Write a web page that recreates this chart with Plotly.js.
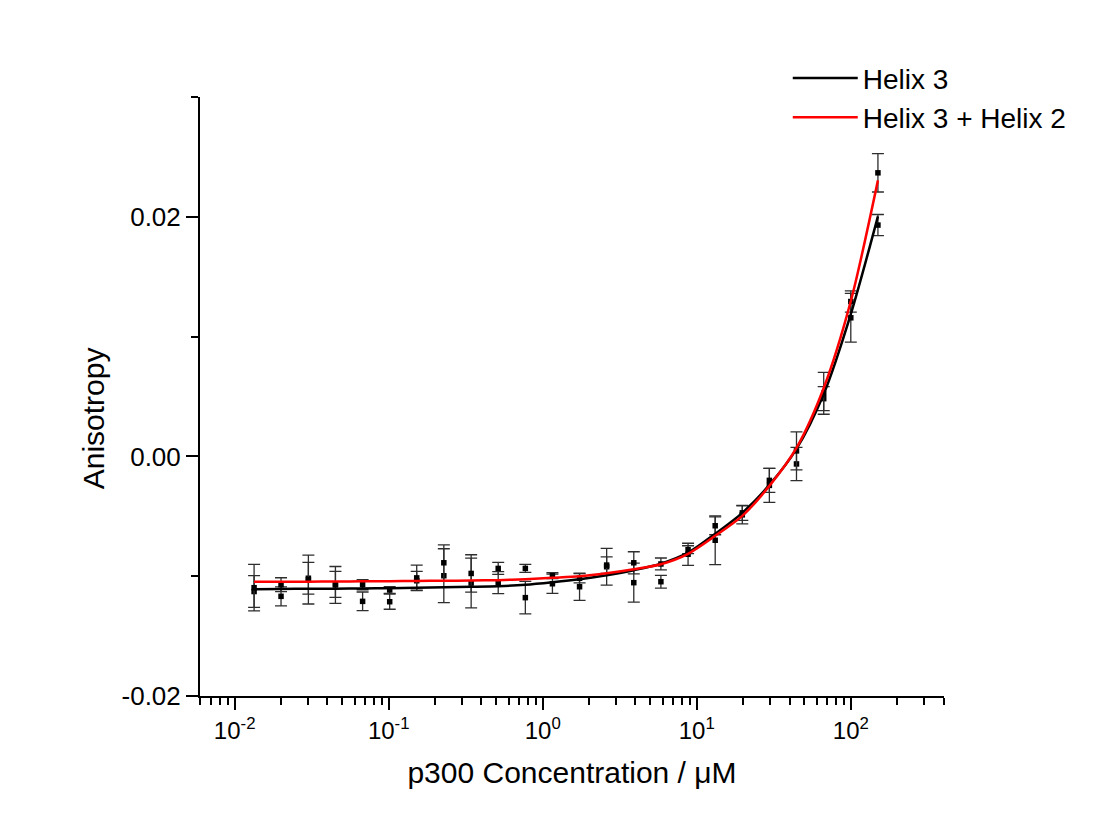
<!DOCTYPE html>
<html>
<head>
<meta charset="utf-8">
<script src="https://cdn.plot.ly/plotly-3.0.1.min.js"></script>
<style>
  html, body { margin: 0; padding: 0; background: #ffffff; }
  #chart { width: 1095px; height: 834px; }
</style>
</head>
<body>
<div id="chart"></div>
<script>
// p300 concentration (µM), 1.5-fold serial dilution
const concentration = [0.01337, 0.0200, 0.0301, 0.0451, 0.0677, 0.1015, 0.152, 0.228, 0.343, 0.514, 0.771, 1.156,
                       1.734, 2.60, 3.90, 5.85, 8.78, 13.17, 19.75, 29.6, 44.4, 66.7, 100, 150];

// Helix 3 measured anisotropy and errors
const helix3Values = [-0.01128, -0.01168, -0.01017, -0.01068, -0.01210, -0.01213, -0.01038, -0.00996, -0.01057, -0.01054, -0.01179, -0.01063,
                      -0.01088, -0.00921, -0.01054, -0.01046, -0.00817, -0.00700, -0.00488, -0.00242, -0.00063, 0.00482, 0.01157, 0.01931];
const helix3Errors = [0.00132, 0.00079, 0.00132, 0.00108, 0.00078, 0.00063, 0.00079, 0.00225, 0.00208, 0.00092, 0.00136, 0.00081,
                      0.00113, 0.00153, 0.00163, 0.00053, 0.00092, 0.00204, 0.00075, 0.00142, 0.00139, 0.00100, 0.00203, 0.00088];

// Helix 3 + Helix 2 measured anisotropy and errors
const helix32Values = [-0.01096, -0.01071, -0.01028, -0.01073, -0.01071, -0.01115, -0.01014, -0.00888, -0.00977, -0.00935, -0.00935, -0.00996,
                       -0.01017, -0.00907, -0.00888, -0.00898, -0.00779, -0.00579, -0.00471, -0.00200, 0.00046, 0.00527, 0.01293, 0.02367];
const helix32Errors = [0.00194, 0.00058, 0.00204, 0.00154, 0.00042, 0.00028, 0.00107, 0.00150, 0.00156, 0.00050, 0.00033, 0.00025,
                       0.00038, 0.00069, 0.00092, 0.00050, 0.00033, 0.00075, 0.00063, 0.00100, 0.00158, 0.00175, 0.00088, 0.00160];

// Fitted curves
const helix3Fit = [-0.01108, -0.01107, -0.01104, -0.01104, -0.01102, -0.01100, -0.01096, -0.01092, -0.01088, -0.01083, -0.01071, -0.01050,
                   -0.01025, -0.00992, -0.00950, -0.00896, -0.00804, -0.00646, -0.00471, -0.00238, 0.00063, 0.00521, 0.01188, 0.02004];
const helix32Fit = [-0.01046, -0.01046, -0.01046, -0.01044, -0.01043, -0.01042, -0.01040, -0.01038, -0.01036, -0.01033, -0.01025, -0.01013,
                    -0.01000, -0.00975, -0.00942, -0.00900, -0.00813, -0.00663, -0.00496, -0.00246, 0.00071, 0.00571, 0.01296, 0.02304];

const seriesNames = ['Helix 3', 'Helix 3 + Helix 2'];
const xTitle = 'p300 Concentration / μM';
const yTitle = 'Anisotropy';

const xTickVals = [0.01, 0.1, 1, 10, 100];
const xTickText = ['10<sup>-2</sup>', '10<sup>-1</sup>', '10<sup>0</sup>', '10<sup>1</sup>', '10<sup>2</sup>'];
const xMinorVals = [0.006, 0.007, 0.008, 0.009,
  0.02, 0.03, 0.04, 0.05, 0.06, 0.07, 0.08, 0.09,
  0.2, 0.3, 0.4, 0.5, 0.6, 0.7, 0.8, 0.9,
  2, 3, 4, 5, 6, 7, 8, 9,
  20, 30, 40, 50, 60, 70, 80, 90,
  200, 300, 400];
const yTickVals = [-0.02, 0.0, 0.02];
const yTickText = ['-0.02', '0.00', '0.02'];

const FONT = 'Arial, "Liberation Sans", sans-serif';

function pointsTrace(vals, errs) {
  return {
    x: concentration, y: vals, type: 'scatter', mode: 'markers', showlegend: false,
    marker: { symbol: 'square', size: 5.5, color: '#000000' },
    error_y: { type: 'data', array: errs, visible: true, color: '#2e2e2e', thickness: 1.3, width: 6 },
    hoverinfo: 'skip'
  };
}

const traces = [
  pointsTrace(helix3Values, helix3Errors),
  pointsTrace(helix32Values, helix32Errors),
  { x: concentration, y: helix3Fit, type: 'scatter', mode: 'lines', name: seriesNames[0],
    line: { color: '#000000', width: 2.5, shape: 'spline', smoothing: 0.8 } },
  { x: concentration, y: helix32Fit, type: 'scatter', mode: 'lines', name: seriesNames[1],
    line: { color: '#ff0000', width: 2.5, shape: 'spline', smoothing: 0.8 } }
];

const layout = {
  width: 1095, height: 834,
  paper_bgcolor: '#ffffff', plot_bgcolor: '#ffffff',
  margin: { l: 200, r: 151, t: 97, b: 138, pad: 0 },
  font: { family: FONT, color: '#000000', size: 24 },
  showlegend: true,
  legend: {
    x: 0.79, y: 1.073, xanchor: 'left', yanchor: 'top',
    font: { family: FONT, size: 28, color: '#000000' },
    bgcolor: 'rgba(0,0,0,0)', borderwidth: 0,
    itemwidth: 65, tracegroupgap: 0
  },
  xaxis: {
    type: 'log', range: [-2.225, 2.605],
    showgrid: false, zeroline: false,
    showline: true, linecolor: '#000000', linewidth: 2,
    ticks: 'outside', ticklen: 12, tickwidth: 2, tickcolor: '#000000',
    tickmode: 'array', tickvals: xTickVals, ticktext: xTickText,
    tickfont: { family: FONT, size: 24, color: '#000000' },
    minor: { tickmode: 'array', tickvals: xMinorVals, ticks: 'outside', ticklen: 7, tickwidth: 2, tickcolor: '#000000', showgrid: false },
    title: { text: xTitle, font: { family: FONT, size: 30, color: '#000000' }, standoff: 19 },
    automargin: false
  },
  yaxis: {
    range: [-0.02, 0.03],
    showgrid: false, zeroline: false,
    showline: true, linecolor: '#000000', linewidth: 2,
    ticks: 'outside', ticklen: 12, tickwidth: 2, tickcolor: '#000000',
    tickmode: 'array', tickvals: yTickVals, ticktext: yTickText,
    tickfont: { family: FONT, size: 26, color: '#000000' },
    minor: { dtick: 0.01, tick0: -0.02, ticks: 'outside', ticklen: 7, tickwidth: 2, tickcolor: '#000000', showgrid: false },
    automargin: false
  },
  annotations: [
    { text: yTitle, textangle: -90, xref: 'paper', yref: 'paper',
      x: -0.1438, y: 0.4637, xanchor: 'center', yanchor: 'middle', showarrow: false,
      font: { family: FONT, size: 30, color: '#000000' } }
  ]
};

Plotly.newPlot('chart', traces, layout, { displayModeBar: false, staticPlot: true });
</script>
</body>
</html>
